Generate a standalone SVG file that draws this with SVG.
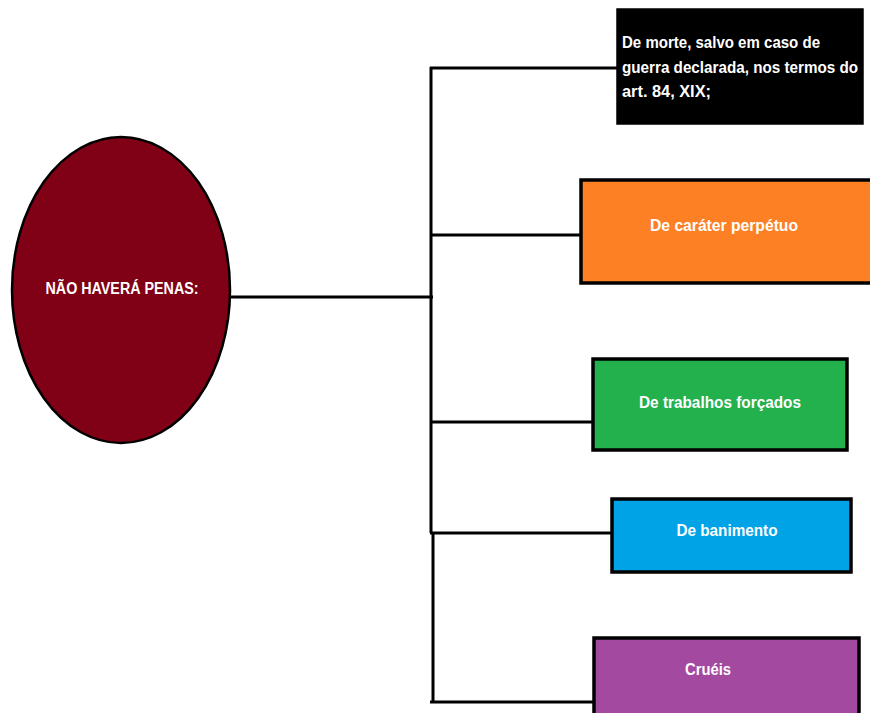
<svg xmlns="http://www.w3.org/2000/svg" width="870" height="713" viewBox="0 0 870 713">
<style>
.box{stroke:#000;stroke-width:3.5}
.lbl{font-family:"Liberation Sans",Arial,sans-serif;font-weight:bold;font-size:16px;fill:#fff}
.c{text-anchor:middle}
.conn{stroke:#000;stroke-width:3;fill:none}
</style>
<rect width="870" height="713" fill="#fff"/>
<g id="connectors">
<line class="conn" x1="230" y1="297" x2="433" y2="297"/>
<line class="conn" x1="431" y1="67" x2="431" y2="533"/>
<line class="conn" x1="433" y1="533" x2="433" y2="703"/>
<line class="conn" x1="430" y1="68" x2="618" y2="68"/>
<line class="conn" x1="430" y1="235" x2="581" y2="235"/>
<line class="conn" x1="430" y1="422" x2="592" y2="422"/>
<line class="conn" x1="430" y1="533" x2="611" y2="533"/>
<line class="conn" x1="430" y1="702" x2="593" y2="702"/>
</g>
<g id="root">
<ellipse cx="121" cy="290" rx="109" ry="153" fill="#800015" stroke="#000" stroke-width="2.5"/>
<text class="lbl c" x="122" y="294" font-size="17" textLength="153" lengthAdjust="spacingAndGlyphs">NÃO HAVERÁ PENAS:</text>
</g>
<g id="morte">
<rect class="box" x="618" y="10" width="244" height="113" fill="#000"/>
<text class="lbl" x="622" y="48" font-size="17" textLength="198" lengthAdjust="spacingAndGlyphs">De morte, salvo em caso de</text>
<text class="lbl" x="622" y="73" font-size="17" textLength="236" lengthAdjust="spacingAndGlyphs">guerra declarada, nos termos do</text>
<text class="lbl" x="622" y="97" font-size="17" textLength="89" lengthAdjust="spacingAndGlyphs">art. 84, XIX;</text>
</g>
<g id="perpetuo">
<rect class="box" x="581" y="180" width="292" height="103" fill="#fd8024"/>
<text class="lbl c" x="724" y="231" font-size="17" textLength="148" lengthAdjust="spacingAndGlyphs">De caráter perpétuo</text>
</g>
<g id="trabalhos">
<rect class="box" x="593" y="359" width="254" height="91" fill="#23b14d"/>
<text class="lbl c" x="720" y="408" font-size="17" textLength="162" lengthAdjust="spacingAndGlyphs">De trabalhos forçados</text>
</g>
<g id="banimento">
<rect class="box" x="612" y="499" width="239" height="73" fill="#00a3e6"/>
<text class="lbl c" x="727" y="536" font-size="17" textLength="101" lengthAdjust="spacingAndGlyphs">De banimento</text>
</g>
<g id="crueis">
<rect class="box" x="594" y="638" width="265" height="90" fill="#a3499f"/>
<text class="lbl c" x="708" y="675" font-size="17" textLength="46" lengthAdjust="spacingAndGlyphs">Cruéis</text>
</g>
</svg>
